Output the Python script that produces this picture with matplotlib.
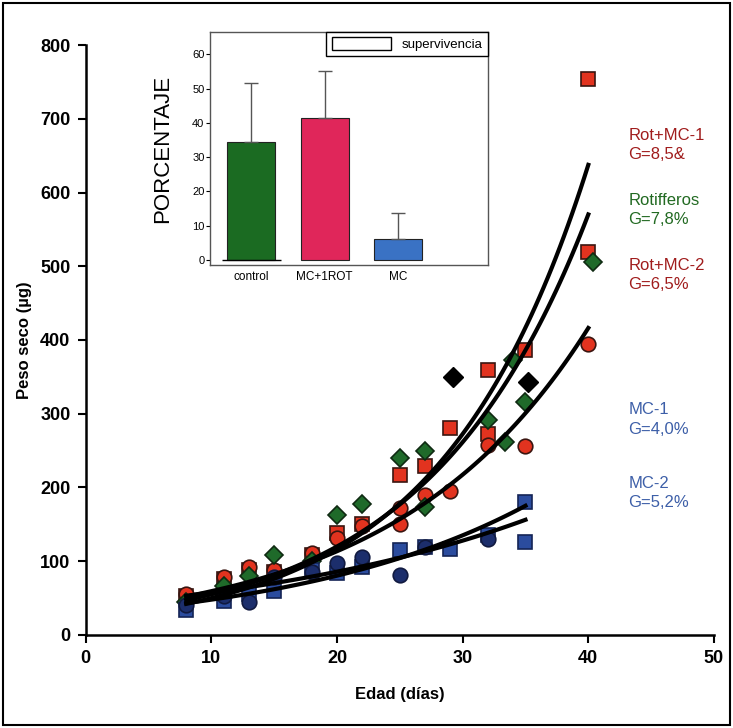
import numpy as np
import matplotlib
matplotlib.use('Agg')
import matplotlib.pyplot as plt
from matplotlib.patches import Rectangle

plt.rcParams['font.family'] = ['Liberation Sans', 'DejaVu Sans']

# scatter data (day, dry weight in ug)
rot_mc1_x = [8, 11, 13, 15, 18, 20, 22, 25, 27, 29, 32, 32, 35, 40, 40]
rot_mc1_y = [52, 76, 88, 85, 108, 138, 150, 217, 229, 281, 359, 272, 386, 754, 520]

rot_mc2_x = [8, 11, 13, 15, 18, 20, 22, 25, 25, 27, 29, 32, 35, 40]
rot_mc2_y = [56, 79, 92, 88, 111, 131, 148, 150, 172, 190, 195, 257, 256, 395]

rotif_x = [8, 11, 13, 15, 18, 20, 22, 25, 27, 27, 32, 33.4, 34, 35, 40.4]
rotif_y = [45, 66, 80, 108, 100, 163, 177, 240, 250, 173, 291, 262, 373, 316, 506]

mc1_x = [8, 11, 13, 15, 18, 20, 22, 25, 27, 29, 32, 35, 35]
mc1_y = [33, 46, 56, 60, 88, 84, 92, 115, 119, 116, 135, 180, 126]

mc2_x = [8, 11, 13, 15, 18, 20, 22, 25, 27, 32]
mc2_y = [40, 52, 45, 79, 85, 97, 106, 81, 119, 130]

black_x = [29.2, 35.2]
black_y = [350, 343]

# exponential growth fits: value at day 8, growth rate G, last day
fit_names = ['Rot+MC-1', 'Rotifferos', 'Rot+MC-2', 'MC-1', 'MC-2']
fit_y0 = [42, 47, 52, 53, 43]
fit_g = [0.085, 0.078, 0.065, 0.040, 0.052]
fit_end = [40, 40, 40, 35, 35]

labels = ['Rot+MC-1\nG=8,5&', 'Rotifferos\nG=7,8%', 'Rot+MC-2\nG=6,5%',
          'MC-1\nG=4,0%', 'MC-2\nG=5,2%']
label_y = [665, 576, 488, 292, 192]
label_colors = ['#a01c1c', '#226a22', '#a01c1c', '#3d5fa8', '#3d5fa8']

# inset survival data
surv_groups = ['control', 'MC+1ROT', 'MC']
surv_pct = [34.5, 41.5, 6.0]
surv_err = [17.2, 13.5, 7.6]
surv_colors = ['#1b6b22', '#e0265a', '#3a72c4']

fig = plt.figure(figsize=(7.33, 7.28), dpi=100)
ax = fig.add_axes([0.117, 0.128, 0.857, 0.81])

red = '#e2331f'
ax.plot(rot_mc1_x, rot_mc1_y, 's', ms=10.5, mfc=red, mec='#3a1510', mew=1.2, zorder=2)
ax.plot(rot_mc2_x, rot_mc2_y, 'o', ms=10.5, mfc=red, mec='#3a1510', mew=1.2, zorder=2)
ax.plot(rotif_x, rotif_y, 'D', ms=9, mfc='#1f6a2a', mec='#0f2a12', mew=1.2, zorder=2)
ax.plot(mc1_x, mc1_y, 's', ms=10.5, mfc='#2b4c9e', mec='#142455', mew=1.2, zorder=2)
ax.plot(mc2_x, mc2_y, 'o', ms=10.5, mfc='#1c2e6c', mec='#111a40', mew=1.2, zorder=2)
ax.plot(black_x, black_y, 'D', ms=10, mfc='black', mec='black', zorder=2)

for y0, g, end in zip(fit_y0, fit_g, fit_end):
    xs = np.linspace(8, end, 100)
    ax.plot(xs, y0 * np.exp(g * (xs - 8)), color='black', lw=3, zorder=3)

for txt, ly, c in zip(labels, label_y, label_colors):
    ax.text(43.2, ly, txt, color=c, fontsize=12, va='center', ha='left', linespacing=1.35)

ax.set_xlim(0, 50)
ax.set_ylim(0, 800)
ax.set_xticks(range(0, 51, 10))
ax.set_yticks(range(0, 801, 100))
ax.spines['top'].set_visible(False)
ax.spines['right'].set_visible(False)
ax.spines['left'].set_linewidth(1.8)
ax.spines['bottom'].set_linewidth(1.8)
ax.tick_params(direction='out', length=6, width=1.5, labelsize=13, pad=5)
for t in ax.get_xticklabels() + ax.get_yticklabels():
    t.set_fontweight('bold')
ax.set_xlabel('Edad (días)', fontsize=12, fontweight='bold', labelpad=14)
ax.set_ylabel('Peso seco (µg)', fontsize=12, fontweight='bold', labelpad=6)

# inset bar chart
ins = fig.add_axes([0.2865, 0.636, 0.379, 0.32])
pos = np.arange(len(surv_groups))
ins.bar(pos, surv_pct, width=0.65, color=surv_colors, edgecolor='#222222', linewidth=0.8,
        yerr=[[0] * 3, surv_err], error_kw=dict(ecolor='#555555', elinewidth=1, capsize=5, capthick=1),
        label='_nolegend_')
ins.bar([0], [0], color='white', edgecolor='black', label='supervivencia')
ins.set_xlim(-0.56, 3.22)
ins.set_ylim(-1.5, 66.5)
ins.set_yticks(range(0, 61, 10))
ins.set_xticks(pos)
ins.set_xticklabels(surv_groups)
ins.tick_params(axis='y', length=3, labelsize=8, pad=1)
ins.tick_params(axis='x', length=0, labelsize=8.5, pad=4)
for s in ins.spines.values():
    s.set_color('#555555')
    s.set_linewidth(1)
ins.set_ylabel('PORCENTAJE', fontsize=16, labelpad=14)
leg = ins.legend(loc='upper right', borderaxespad=0, fontsize=9.5, handlelength=4.5,
                 handleheight=1.1, fancybox=False, edgecolor='black', framealpha=1)
leg.get_frame().set_linewidth(1)

# scanned page border
fig.patches.append(Rectangle((0.004, 0.004), 0.992, 0.992, transform=fig.transFigure,
                             fill=False, edgecolor='black', linewidth=1.5))

fig.savefig('out.png', dpi=100)
